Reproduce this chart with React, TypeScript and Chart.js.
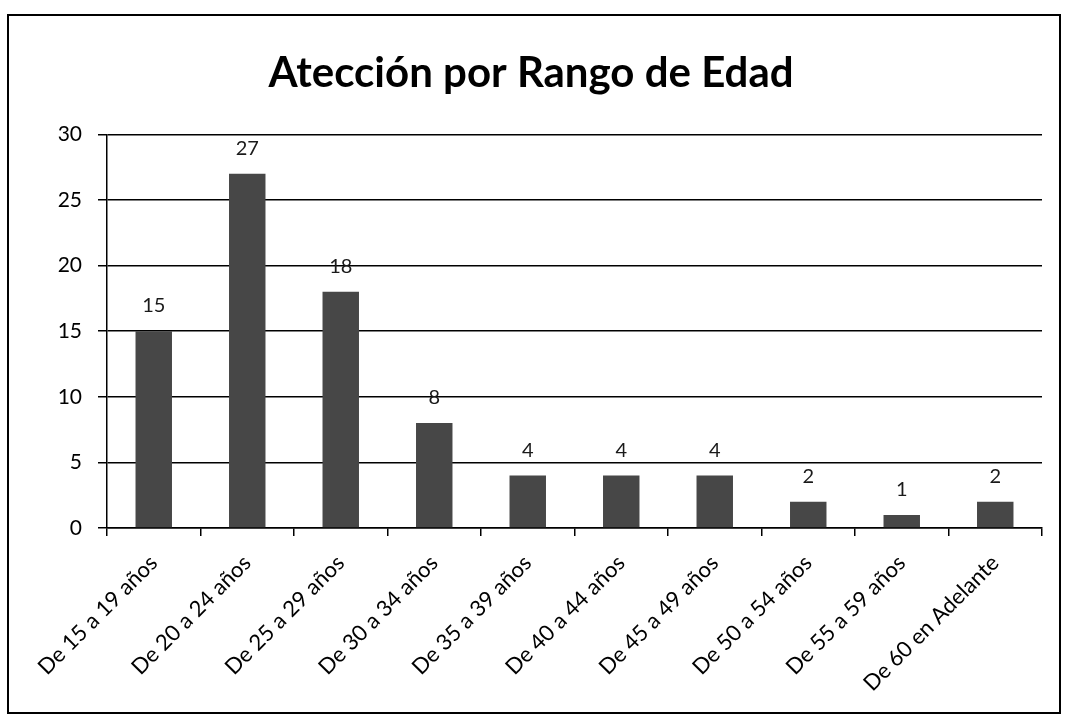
import React, { useEffect, useRef } from "react";
import { Chart, registerables } from "chart.js";

Chart.register(...registerables);

const title = "Atección por Rango de Edad";
const categories = [
  "De 15 a 19 años",
  "De 20 a 24 años",
  "De 25 a 29 años",
  "De 30 a 34 años",
  "De 35 a 39 años",
  "De 40 a 44 años",
  "De 45 a 49 años",
  "De 50 a 54 años",
  "De 55 a 59 años",
  "De 60 en Adelante",
];
const values = [15, 27, 18, 8, 4, 4, 4, 2, 1, 2];
const yTicks = [0, 5, 10, 15, 20, 25, 30];

const FONT = "Lato, 'Open Sans', sans-serif";

const dataLabels = {
  id: "dataLabels",
  afterDatasetsDraw(chart: any) {
    const ctx = chart.ctx;
    const meta = chart.getDatasetMeta(0);
    ctx.save();
    ctx.font = `20px ${FONT}`;
    ctx.fillStyle = "#1a1a1a";
    ctx.textAlign = "center";
    ctx.textBaseline = "alphabetic";
    meta.data.forEach((bar: any, i: number) => {
      ctx.fillText(String(values[i]), bar.x, bar.y - 19);
    });
    ctx.restore();
  },
};

export default function App() {
  const ref = useRef<HTMLCanvasElement | null>(null);
  useEffect(() => {
    if (!ref.current) return;
    const chart = new Chart(ref.current, {
      type: "bar",
      data: {
        labels: categories,
        datasets: [
          {
            data: values,
            backgroundColor: "#474747",
            borderWidth: 0,
            categoryPercentage: 1,
            barPercentage: 0.39,
          },
        ],
      },
      options: {
        animation: false,
        responsive: false,
        maintainAspectRatio: false,
        layout: { padding: { left: 20, right: 33, top: 0, bottom: 0 } },
        plugins: {
          legend: { display: false },
          tooltip: { enabled: false },
          title: {
            display: true,
            text: title,
            color: "#000",
            font: { family: FONT, size: 42, weight: "bold" },
            padding: { top: 48, bottom: 36 },
          },
        },
        scales: {
          x: {
            grid: {
              display: true,
              drawOnChartArea: false,
              drawTicks: true,
              tickLength: 8,
              color: "#000",
              lineWidth: 1.5,
              offset: true,
            },
            border: { color: "#000", width: 1.5 },
            ticks: {
              color: "#000",
              font: { family: FONT, size: 22 },
              minRotation: 45,
              maxRotation: 45,
              padding: 14,
              autoSkip: false,
            },
            afterFit(scale: any) {
              scale.height = 193;
            },
          },
          y: {
            min: 0,
            max: 30,
            afterBuildTicks(scale: any) {
              scale.ticks = yTicks.map((v) => ({ value: v }));
            },
            grid: {
              color: "#000",
              lineWidth: 1.5,
              drawTicks: true,
              tickLength: 9,
            },
            border: { color: "#000", width: 1.5 },
            ticks: {
              color: "#000",
              font: { family: FONT, size: 21 },
              padding: 16,
            },
            afterFit(scale: any) {
              scale.width = 87;
            },
          },
        },
      },
      plugins: [dataLabels],
    });
    return () => chart.destroy();
  }, []);

  return (
    <div style={{ position: "fixed", left: 0, top: 0, width: 1075, height: 721, background: "#fff" }}>
      <div
        style={{
          position: "absolute",
          left: 7,
          top: 14,
          width: 1054,
          height: 700,
          border: "2px solid #000",
          boxSizing: "border-box",
        }}
      />
      <canvas ref={ref} width={1075} height={721} style={{ position: "absolute", left: 0, top: 0 }} />
    </div>
  );
}
